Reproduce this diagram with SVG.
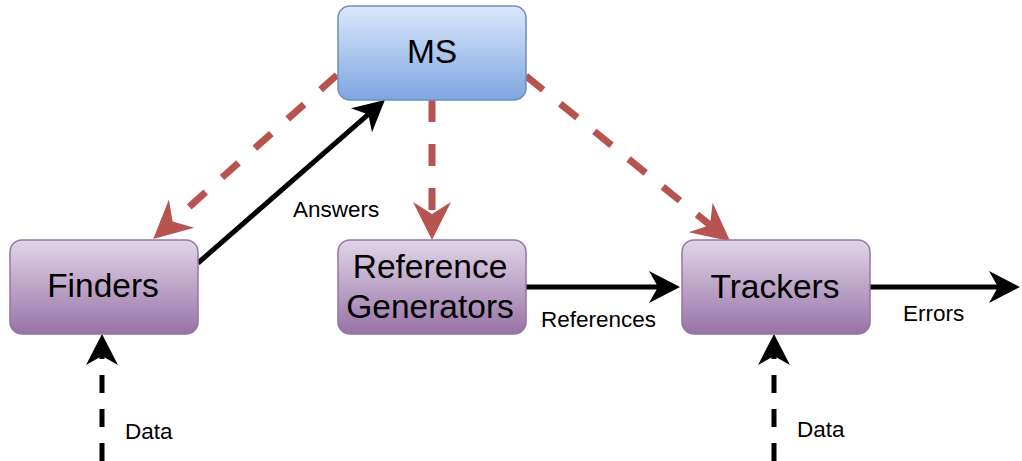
<svg xmlns="http://www.w3.org/2000/svg" width="1022" height="461" viewBox="0 0 1022 461">
<style>
.node-text{font-family:"Liberation Sans",Arial,sans-serif;font-size:33.5px;fill:#000;text-anchor:middle}
.lbl{font-family:"Liberation Sans",Arial,sans-serif;font-size:22.5px;fill:#000}
.red{stroke:#b85450;stroke-width:7;fill:none;stroke-dasharray:22 22}
.blk{stroke:#000;stroke-width:5;fill:none}
.blkd{stroke:#000;stroke-width:5;fill:none;stroke-dasharray:18 16}
</style>
<defs>
<linearGradient id="gBlue" x1="0" y1="0" x2="0" y2="1">
<stop offset="0" stop-color="#dae8fc"/>
<stop offset="1" stop-color="#7ea6e0"/>
</linearGradient>
<linearGradient id="gPurple" x1="0" y1="0" x2="0" y2="1">
<stop offset="0" stop-color="#e1d5e7"/>
<stop offset="1" stop-color="#9673a6"/>
</linearGradient>
<marker id="aRed" markerUnits="userSpaceOnUse" markerWidth="40" markerHeight="40" viewBox="-38 -20 40 40" refX="-26" refY="0" orient="auto">
<path d="M0,0 L-38,-19 L-26,0 L-38,19 Z" fill="#b85450"/>
</marker>
<marker id="aBlk" markerUnits="userSpaceOnUse" markerWidth="34" markerHeight="34" viewBox="-32 -17 34 34" refX="-22" refY="0" orient="auto">
<path d="M0,0 L-31,-16 L-22,0 L-31,16 Z" fill="#000"/>
</marker>
</defs>
<g id="connectors">
<line class="red" x1="337" y1="75" x2="172.6" y2="221.6" marker-end="url(#aRed)"/>
<line class="blk" x1="198" y1="263" x2="368.3" y2="114.4" marker-end="url(#aBlk)"/>
<line class="red" x1="432" y1="100" x2="432" y2="214" marker-end="url(#aRed)"/>
<line class="red" x1="526" y1="76" x2="710" y2="225" marker-end="url(#aRed)"/>
<line class="blk" x1="526" y1="287" x2="658" y2="287" marker-end="url(#aBlk)"/>
<line class="blk" x1="870" y1="287" x2="998" y2="287" marker-end="url(#aBlk)"/>
<line class="blkd" x1="102" y1="461" x2="102" y2="356" marker-end="url(#aBlk)"/>
<line class="blkd" x1="774" y1="461" x2="774" y2="356" marker-end="url(#aBlk)"/>
<text class="lbl" x="293" y="217">Answers</text>
<text class="lbl" x="541" y="327">References</text>
<text class="lbl" x="903" y="321">Errors</text>
<text class="lbl" x="125" y="439">Data</text>
<text class="lbl" x="797" y="437">Data</text>
</g>
<g id="ms">
<rect x="338" y="6" width="188" height="94" rx="12" fill="url(#gBlue)" stroke="#6c8ebf" stroke-width="1.5"/>
<text class="node-text" x="432" y="63">MS</text>
</g>
<g id="finders">
<rect x="10" y="240" width="188" height="94" rx="12" fill="url(#gPurple)" stroke="#9673a6" stroke-width="1.5"/>
<text class="node-text" x="103" y="297">Finders</text>
</g>
<g id="refgen">
<rect x="338" y="240" width="188" height="94" rx="12" fill="url(#gPurple)" stroke="#9673a6" stroke-width="1.5"/>
<text class="node-text" x="430" y="278">Reference</text>
<text class="node-text" x="430" y="318">Generators</text>
</g>
<g id="trackers">
<rect x="682" y="240" width="188" height="94" rx="12" fill="url(#gPurple)" stroke="#9673a6" stroke-width="1.5"/>
<text class="node-text" x="775" y="298">Trackers</text>
</g>
</svg>
